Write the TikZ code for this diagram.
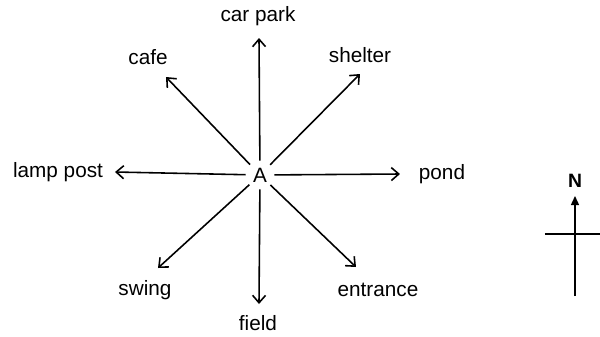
\documentclass[tikz,border=0pt]{standalone}
\usepackage{fontspec}
\setmainfont{Liberation Sans}
\usetikzlibrary{arrows.meta,positioning}

\begin{document}
\begin{tikzpicture}[
  x=0.02cm, y=-0.02cm,
  place/.style={align=center, font=\fontsize{11.8}{14}\selectfont, inner sep=1pt},
  centre/.style={circle, inner sep=0pt, minimum size=0.56cm, font=\fontsize{11.8}{14}\selectfont},
  arrow/.style={-{Straight Barb[length=1.5mm,width=2.6mm]}, line width=0.9pt},
  north/.style={-{Triangle[length=1.8mm,width=1.6mm]}, line width=0.8pt}
]
\useasboundingbox (0,0) rectangle (600,336);

\node[centre] (A) at (260,175) {A};

% places round A
\node[place] (carpark) at (258,16) {car park};
\node[place] (cafe) at (148,57) {cafe};
\node[place] (shelter) at (360,55) {shelter};
\node[place] (lamp) at (58,172) {lamp post};
\node[place] (pond) at (442,174) {pond};
\node[place] (swing) at (145,290) {swing};
\node[place] (entrance) at (378,290) {entrance};
\node[place] (field) at (258,323) {field};

% arrow tips
\coordinate (tn) at (259,38);
\coordinate (tnw) at (166,77);
\coordinate (tne) at (360,74);
\coordinate (tw) at (115,172);
\coordinate (te) at (400,174);
\coordinate (tsw) at (158,268);
\coordinate (tse) at (356,267);
\coordinate (ts) at (259,304);

\foreach \t in {tn,tnw,tne,tw,te,tsw,tse,ts}
  \draw[arrow] (A) -- (\t);

% compass
\node[font=\bfseries\fontsize{11}{13}\selectfont] (N) at (575,181) {N};
\coordinate (nfoot) at (575,296);
\coordinate (ntip) at (575,196);
\coordinate (ewest) at (545,234);
\coordinate (eeast) at (600,234);
\draw[north] (nfoot) -- (ntip);
\draw[line width=0.8pt] (ewest) -- (eeast);
\end{tikzpicture}
\end{document}
